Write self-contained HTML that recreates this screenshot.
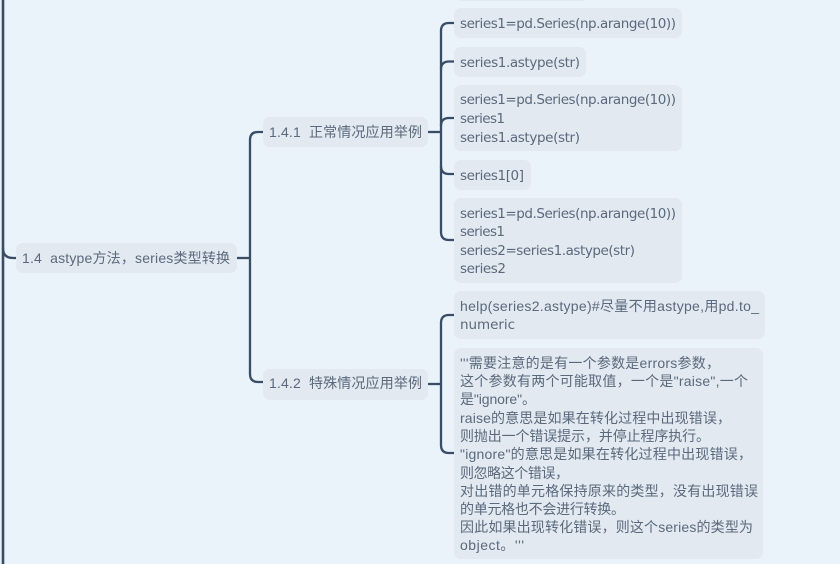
<!DOCTYPE html>
<html><head><meta charset="utf-8">
<style>
html,body{margin:0;padding:0;width:840px;height:564px;overflow:hidden;background:#eaf2fa}
svg{display:block}
text{font-family:"DejaVu Sans","Noto Sans CJK SC",sans-serif;font-size:13.5px;fill:#5a697d;white-space:pre}
.z{font-family:"Liberation Sans","Noto Sans CJK SC",sans-serif;font-size:14px}
</style></head><body>
<svg width="840" height="564" viewBox="0 0 840 564" xmlns="http://www.w3.org/2000/svg">
<rect width="840" height="564" fill="#eaf2fa"/>
<rect x="459" y="0" width="125" height="1" fill="#e2e9f0"/>
<g fill="#e2e9f0">
<rect x="16" y="243" width="221" height="30" rx="7"/>
<rect x="263" y="117" width="165" height="30" rx="7"/>
<rect x="263" y="369" width="165" height="31" rx="7"/>
<rect x="454" y="8" width="228" height="30" rx="7"/>
<rect x="454" y="47" width="132" height="30" rx="7"/>
<rect x="454" y="85" width="228" height="66" rx="7"/>
<rect x="454" y="160" width="77" height="30" rx="7"/>
<rect x="454" y="198" width="228" height="85" rx="7"/>
<rect x="454" y="291" width="311" height="48" rx="7"/>
<rect x="454" y="348" width="309" height="211" rx="7"/>
</g>
<g fill="none" stroke="#3a4d66" stroke-width="2.3">
<path d="M3 0V564" stroke-width="2.6"/>
<path d="M3 248Q3 258 13 258H16"/>
<path d="M237 258H250"/>
<path d="M263 132H258Q250 132 250 140V374Q250 382 258 382H263"/>
<path d="M428 132H441"/>
<path d="M454 23H449Q441 23 441 31V232Q441 240 449 240H454"/>
<path d="M454 61.500H449Q441 61.500 441 69.500"/>
<path d="M454 118H449Q441 118 441 126"/>
<path d="M441 166Q441 174 449 174H454"/>
<path d="M428 384H441"/>
<path d="M454 315H449Q441 315 441 323V445Q441 453 449 453H454"/>
</g>
<g class="z">
<text class="z" xml:space="preserve" x="22" y="263" textLength="208">1.4  astype方法，series类型转换</text>
<text class="z" xml:space="preserve" x="269" y="137" textLength="153">1.4.1  正常情况应用举例</text>
<text class="z" xml:space="preserve" x="269" y="388" textLength="153">1.4.2  特殊情况应用举例</text>
<text x="460" y="28" textLength="216">series1=pd.Series(np.arange(10))</text>
<text x="460" y="67" textLength="120">series1.astype(str)</text>
<text x="460" y="104" textLength="216">series1=pd.Series(np.arange(10))</text>
<text x="460" y="123" textLength="45">series1</text>
<text x="460" y="142" textLength="120">series1.astype(str)</text>
<text x="460" y="180" textLength="64">series1[0]</text>
<text x="460" y="218" textLength="216">series1=pd.Series(np.arange(10))</text>
<text x="460" y="236" textLength="45">series1</text>
<text x="460" y="255" textLength="175">series2=series1.astype(str)</text>
<text x="460" y="273" textLength="46">series2</text>
<text class="z" x="460" y="311" textLength="299">help(series2.astype)#尽量不用astype,用pd.to_</text>
<text x="460" y="329" textLength="55">numeric</text>
<text class="z" x="460" y="368" textLength="260">'''需要注意的是有一个参数是errors参数，</text>
<text class="z" x="460" y="386" textLength="288">这个参数有两个可能取值，一个是"raise",一个</text>
<text class="z" x="460" y="404" textLength="76">是"ignore"。</text>
<text class="z" x="460" y="423" textLength="271">raise的意思是如果在转化过程中出现错误，</text>
<text class="z" x="460" y="441" textLength="250">则抛出一个错误提示，并停止程序执行。</text>
<text class="z" x="460" y="459" textLength="292">"ignore"的意思是如果在转化过程中出现错误，</text>
<text class="z" x="460" y="478" textLength="109">则忽略这个错误，</text>
<text class="z" x="460" y="496" textLength="298">对出错的单元格保持原来的类型，没有出现错误</text>
<text class="z" x="460" y="514" textLength="165">的单元格也不会进行转换。</text>
<text class="z" x="460" y="532" textLength="293">因此如果出现转化错误，则这个series的类型为</text>
<text class="z" x="460" y="550" textLength="64">object。'''</text>
</g>
</svg>
</body></html>
